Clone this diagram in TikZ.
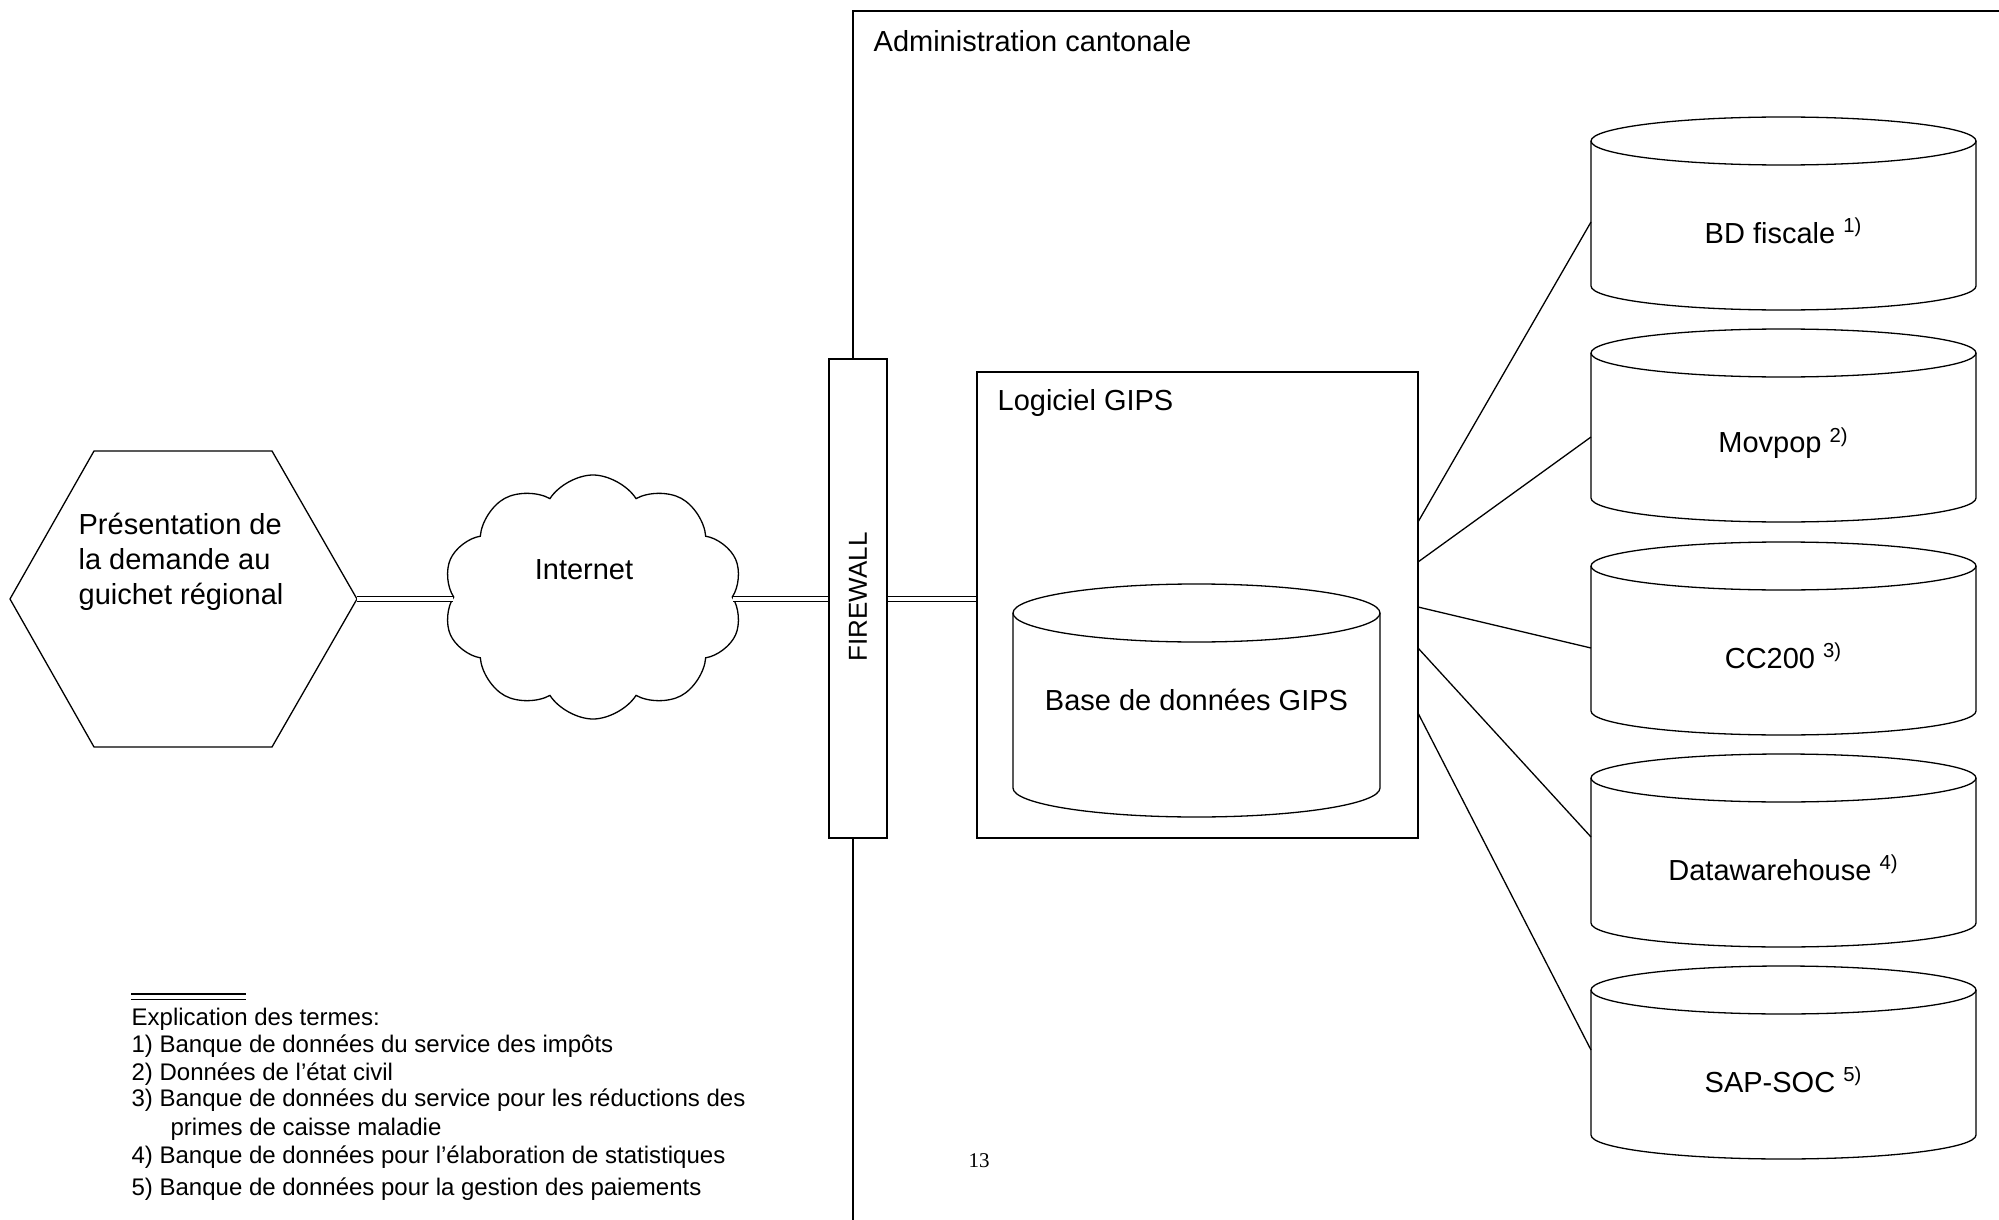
\documentclass[tikz,border=0pt]{standalone}
\usepackage{fontspec}
\setmainfont{Liberation Sans}
\newfontfamily\serifnum{Liberation Serif}
\usetikzlibrary{shapes.symbols}
\newcommand\dbcyl[3]{%
  \draw (1591,{#2+24}) -- (1591,{#2+169}) arc[start angle=180,end angle=0,x radius=192.5,y radius=24] -- (1976,{#2+24});
  \draw (1783.5,{#2+24}) ellipse[x radius=192.5,y radius=24];
  \node[inner sep=0pt, minimum width=192.5pt, minimum height=96.5pt] (#1) at (1783.5,{#2+96.5}) {};
  \node[lbl] (#1t) at (1783.5,{#2+114}) {#3};
}
\begin{document}
\begin{tikzpicture}[x=0.5pt,y=-0.5pt, line width=0.65pt,
  lbl/.style={font=\fontsize{14.5}{17.5}\selectfont, inner sep=0pt},
  note/.style={font=\fontsize{12}{14}\selectfont, inner sep=0pt, anchor=base west},
  dbl/.style={double, double distance=1.7pt, line width=0.7pt},
  conn/.style={line width=0.65pt}]
\useasboundingbox (0,0) rectangle (1999,1220);
% administration cantonale frame
\draw (853,1225) -- (853,11) -- (2005,11);
\node[lbl, anchor=west] (admin) at (873,41) {Administration cantonale};
% hexagon
\draw (10,599) -- (94,451) -- (272,451) -- (357,599) -- (272,747) -- (94,747) -- cycle;
\coordinate (hexE) at (357,599);
\node[lbl, align=left, anchor=west] (hextext) at (78,562) {Présentation de\\la demande au\\guichet régional};
% cloud
\node[cloud, draw, cloud puffs=10, cloud puff arc=115, aspect=1.24, minimum width=150pt, minimum height=122pt, inner sep=0pt] (cloud) at (593,597) {};
\node[lbl] (inet) at (584,570) {Internet};
% firewall
\node[draw, fill=white, minimum width=29pt, minimum height=239.5pt, inner sep=0pt] (fw) at (858,598.5) {};
\node[rotate=90, font=\fontsize{13}{13}\selectfont, inner sep=0pt] (fwtext) at (858,597) {FIREWALL};
% Logiciel GIPS box
\node[draw, minimum width=220.5pt, minimum height=233pt, inner sep=0pt] (box) at (1197.5,605) {};
\node[lbl, anchor=west] (logtext) at (997,403) {Logiciel GIPS};
% GIPS database
\draw (1013,613) -- (1013,788) arc[start angle=180,end angle=0,x radius=183.5,y radius=29] -- (1380,613);
\draw (1196.5,613) ellipse[x radius=183.5,y radius=29];
\node[lbl] (gipsdb) at (1196.5,700) {Base de données GIPS};
% double connectors
\draw[dbl] (hexE) -- (cloud.west |- hexE);
\draw[dbl] (cloud.east |- hexE) -- (fw.west |- hexE);
\draw[dbl] (fw.east |- hexE) -- (box.west |- hexE);
% right databases
\dbcyl{bdf}{117}{BD fiscale \textsuperscript{1)}}
\dbcyl{mov}{329}{Movpop \textsuperscript{2)}}
\dbcyl{cc}{542}{CC200 \textsuperscript{3)}}
\dbcyl{dwh}{754}{Datawarehouse \textsuperscript{4)}}
\dbcyl{sap}{966}{SAP-SOC \textsuperscript{5)}}
% connectors from box to databases
\coordinate (s1) at (1418,522); \coordinate (e1) at (1591,222);
\coordinate (s2) at (1418,562); \coordinate (e2) at (1591,437);
\coordinate (s3) at (1418,607); \coordinate (e3) at (1591,648);
\coordinate (s4) at (1418,648); \coordinate (e4) at (1591,837);
\coordinate (s5) at (1418,713); \coordinate (e5) at (1591,1050);
\foreach \i in {1,...,5} \draw[conn] (s\i) -- (e\i);
% footnotes
\draw[line width=0.7pt] (131,994) -- (246,994);
\draw[line width=0.7pt] (131,999.5) -- (246,999.5);
\node[note] (n0) at (131,1025) {Explication des termes:};
\node[note] (n1) at (131,1052) {1) Banque de données du service des impôts};
\node[note] (n2) at (131,1080) {2) Données de l’état civil};
\node[note] (n3) at (131,1106) {3) Banque de données du service pour les réductions des};
\node[note] (n3b) at (170,1135) {primes de caisse maladie};
\node[note] (n4) at (131,1163) {4) Banque de données pour l’élaboration de statistiques};
\node[note] (n5) at (131,1195) {5) Banque de données pour la gestion des paiements};
% page number
\node[font=\serifnum\fontsize{10.5}{12}\selectfont, inner sep=0pt] (pg) at (979,1161) {13};
\end{tikzpicture}
\end{document}
